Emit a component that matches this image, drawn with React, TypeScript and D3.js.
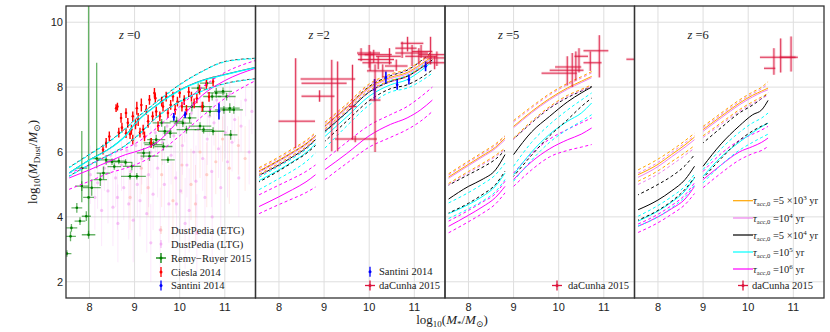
import * as d3 from "d3";

const W = 830, H = 332;
const PANEL_LEFT = [66, 255.5, 445, 634.5];
const PANEL_W = 189.5;
const TOP = 6, BOTTOM = 298;
const X_DOMAIN = [7.48, 11.68];
const Y_DOMAIN = [1.5, 10.5];
const X_TICKS = [8, 9, 10, 11];
const Y_TICKS = [2, 4, 6, 8, 10];
const REDSHIFTS = ["0", "2", "5", "6"];

// model grids (x positions of the median / percentile curves)
const Z0_X = [7.55, 8.0, 8.5, 8.8, 9.0, 9.5, 10.0, 10.5, 11.0, 11.68];
const SEG1_X = [7.56, 8.0, 8.3, 8.6, 8.81];
const Z2_SEG2_X = [9.02, 9.5, 10.0, 10.47, 10.84, 11.14, 11.4];
const Z5_SEG2_X = [9.0, 9.4, 9.8, 10.2, 10.5, 10.73];
const Z6_SEG2_X = [9.0, 9.4, 9.8, 10.1, 10.3, 10.44];

// each: [median, lower, upper]
const z0Cyan = [
  [5.35, 5.75, 6.15, 6.5, 6.85, 7.45, 7.9, 8.2, 8.38, 8.6],
  [5.25, 5.6, 5.95, 6.2, 6.42, 7.08, 7.55, 7.88, 8.1, 8.25],
  [5.52, 5.92, 6.38, 6.72, 6.98, 7.55, 8.07, 8.48, 8.78, 8.88],
];
const z0Black = [
  [5.36, 5.76, 6.16, 6.51, 6.86, 7.46, 7.91, 8.21, 8.39, 8.61],
  [5.26, 5.61, 5.96, 6.21, 6.43, 7.09, 7.56, 7.89, 8.11, 8.26],
  [5.53, 5.93, 6.39, 6.73, 6.99, 7.56, 8.08, 8.49, 8.79, 8.89],
];
const z0Magenta = [
  [5.2, 5.45, 5.75, 5.92, 6.0, 6.3, 7.0, 7.75, 8.2, 8.58],
  [4.85, 5.1, 5.38, 5.5, 5.6, 5.95, 6.5, 7.1, 7.65, 8.2],
  [5.35, 5.6, 5.95, 6.12, 6.25, 6.75, 7.4, 8.0, 8.45, 8.82],
];

const z2s1Orange = [[5.42, 5.75, 6.0, 6.26, 6.5], [5.32, 5.65, 5.9, 6.16, 6.4], [5.52, 5.85, 6.1, 6.36, 6.6]];
const z2s1Plum = [[5.38, 5.71, 5.96, 6.22, 6.46], [5.28, 5.61, 5.86, 6.12, 6.36], [5.48, 5.81, 6.06, 6.32, 6.56]];
const z2s1Black = [[5.28, 5.6, 5.85, 6.12, 6.38], [5.08, 5.42, 5.68, 5.95, 6.2], [5.4, 5.74, 5.98, 6.25, 6.5]];
const z2s1Cyan = [[5.12, 5.45, 5.7, 5.98, 6.25], [4.84, 5.18, 5.42, 5.7, 5.97], [5.22, 5.56, 5.8, 6.08, 6.35]];
const z2s1Magenta = [[4.32, 4.62, 4.84, 5.08, 5.3], [4.1, 4.38, 4.56, 4.75, 4.92], [4.68, 4.98, 5.18, 5.4, 5.6]];

const z2s2Orange = [[6.82, 7.38, 8.0, 8.3, 8.45, 8.7, 8.95], [6.72, 7.28, 7.9, 8.2, 8.35, 8.6, 8.85], [6.92, 7.48, 8.1, 8.4, 8.55, 8.8, 9.05]];
const z2s2Plum = [[6.78, 7.34, 7.96, 8.26, 8.41, 8.66, 8.91], [6.68, 7.24, 7.86, 8.16, 8.31, 8.56, 8.81], [6.88, 7.44, 8.06, 8.36, 8.51, 8.76, 9.01]];
const z2s2Black = [[6.64, 7.22, 7.85, 8.17, 8.33, 8.58, 8.84], [6.33, 6.95, 7.58, 7.95, 8.07, 8.28, 8.53], [6.8, 7.38, 8.02, 8.35, 8.52, 8.8, 9.1]];
const z2s2Cyan = [[6.48, 7.08, 7.72, 8.07, 8.23, 8.5, 8.79], [6.12, 6.8, 7.45, 7.85, 7.97, 8.18, 8.43], [6.6, 7.2, 7.85, 8.2, 8.36, 8.62, 8.9]];
const z2s2Magenta = [[5.46, 5.95, 6.5, 6.85, 7.05, 7.3, 7.6], [5.15, 5.65, 6.15, 6.45, 6.69, 6.95, 7.25], [5.76, 6.3, 6.82, 7.15, 7.4, 7.7, 8.0]];

const z5s1Orange = [[5.23, 5.62, 5.88, 6.15, 6.43], [5.03, 5.4, 5.64, 5.9, 6.12], [5.33, 5.72, 5.98, 6.25, 6.5]];
const z5s1Plum = [[5.19, 5.58, 5.84, 6.11, 6.38], [4.99, 5.36, 5.6, 5.86, 6.08], [5.29, 5.68, 5.94, 6.21, 6.48]];
const z5s1Black = [[4.55, 4.94, 5.15, 5.45, 5.92], [4.12, 4.42, 4.68, 5.0, 5.41], [4.98, 5.3, 5.52, 5.78, 6.05]];
const z5s1Cyan = [[4.1, 4.38, 4.62, 4.95, 5.35], [3.95, 4.25, 4.48, 4.78, 5.15], [4.43, 4.75, 5.0, 5.3, 5.66]];
const z5s1Magenta = [[3.71, 4.05, 4.3, 4.6, 4.94], [3.51, 3.85, 4.1, 4.4, 4.74], [3.87, 4.2, 4.45, 4.72, 5.1]];

const z5s2Orange = [[6.79, 7.25, 7.65, 7.98, 8.18, 8.33], [6.43, 6.95, 7.4, 7.75, 7.93, 8.07], [6.97, 7.4, 7.8, 8.12, 8.32, 8.48]];
const z5s2Plum = [[6.75, 7.21, 7.61, 7.94, 8.14, 8.29], [6.39, 6.91, 7.36, 7.71, 7.89, 8.03], [6.93, 7.36, 7.76, 8.08, 8.28, 8.44]];
const z5s2Black = [[5.92, 6.62, 7.1, 7.55, 7.82, 8.0], [5.25, 5.9, 6.5, 7.0, 7.4, 7.66], [6.4, 6.9, 7.35, 7.68, 7.88, 8.02]];
const z5s2Cyan = [[5.3, 6.0, 6.55, 6.95, 7.2, 7.51], [5.1, 5.75, 6.3, 6.7, 6.95, 7.15], [5.56, 6.3, 6.85, 7.3, 7.6, 7.82]];
const z5s2Magenta = [[5.15, 5.7, 6.1, 6.38, 6.55, 6.74], [4.94, 5.45, 5.85, 6.05, 6.15, 6.23], [5.35, 5.95, 6.4, 6.7, 6.9, 7.05]];

const z6s1Orange = [[5.3, 5.62, 5.92, 6.22, 6.46], [5.1, 5.42, 5.7, 5.98, 6.2], [5.45, 5.78, 6.05, 6.35, 6.58]];
const z6s1Plum = [[5.22, 5.55, 5.85, 6.15, 6.38], [5.0, 5.32, 5.6, 5.9, 6.12], [5.35, 5.68, 5.98, 6.28, 6.5]];
const z6s1Black = [[4.22, 4.52, 4.8, 5.15, 5.56], [3.9, 4.2, 4.48, 4.85, 5.22], [4.68, 5.0, 5.25, 5.58, 5.92]];
const z6s1Cyan = [[3.87, 4.18, 4.45, 4.8, 5.2], [3.72, 4.0, 4.28, 4.62, 4.98], [4.02, 4.35, 4.62, 4.95, 5.32]];
const z6s1Magenta = [[3.71, 4.0, 4.25, 4.55, 4.94], [3.52, 3.82, 4.08, 4.38, 4.72], [3.78, 4.08, 4.35, 4.68, 5.05]];

const z6s2Orange = [[6.69, 7.1, 7.5, 7.75, 7.88, 7.97], [6.5, 6.9, 7.3, 7.55, 7.7, 7.8], [6.79, 7.2, 7.6, 7.85, 8.0, 8.17]];
const z6s2Plum = [[6.64, 7.05, 7.45, 7.7, 7.84, 7.92], [6.45, 6.85, 7.25, 7.5, 7.65, 7.75], [6.74, 7.15, 7.55, 7.8, 7.95, 8.1]];
const z6s2Black = [[5.56, 6.25, 6.8, 7.15, 7.3, 7.59], [5.2, 5.8, 6.35, 6.65, 6.8, 6.89], [6.28, 6.75, 7.2, 7.45, 7.65, 7.82]];
const z6s2Cyan = [[5.25, 5.85, 6.3, 6.6, 6.78, 6.89], [5.05, 5.6, 6.05, 6.3, 6.45, 6.55], [5.46, 6.1, 6.6, 6.9, 7.05, 7.2]];
const z6s2Magenta = [[5.15, 5.6, 6.0, 6.17, 6.3, 6.43], [4.9, 5.35, 5.75, 5.95, 6.05, 6.17], [5.4, 5.95, 6.35, 6.55, 6.68, 6.79]];

// observations: DustPedia [x, y, yerr]
const dustPediaLTG = [
  [8.02, 5.3, 0.9], [8.12, 4.6, 1.0], [8.18, 5.05, 0.8], [8.27, 4.2, 1.1], [8.33, 5.5, 0.7], [8.41, 4.8, 1.0],
  [8.47, 5.9, 0.6], [8.52, 4.3, 1.2], [8.58, 5.2, 0.9], [8.63, 3.8, 1.2], [8.71, 5.6, 0.8], [8.76, 4.9, 1.0],
  [8.83, 6.05, 0.6], [8.87, 4.4, 1.1], [8.92, 5.4, 0.9], [8.97, 3.9, 1.3], [9.03, 6.2, 0.7], [9.06, 5.0, 1.0],
  [9.12, 4.5, 1.1], [9.16, 5.8, 0.8], [9.22, 6.45, 0.6], [9.27, 4.1, 1.2], [9.31, 5.3, 1.0], [9.36, 6.0, 0.8],
  [9.41, 4.7, 1.1], [9.46, 6.6, 0.6], [9.51, 5.5, 0.9], [9.57, 3.6, 1.3], [9.62, 6.3, 0.7], [9.66, 5.0, 1.0],
  [9.72, 6.8, 0.6], [9.76, 4.4, 1.2], [9.81, 5.9, 0.9], [9.87, 6.5, 0.7], [9.91, 5.2, 1.1], [9.96, 7.0, 0.5],
  [10.02, 4.8, 1.2], [10.06, 6.2, 0.9], [10.11, 6.9, 0.6], [10.16, 5.6, 1.0], [10.21, 4.2, 1.3], [10.26, 7.2, 0.5],
  [10.31, 6.0, 0.9], [10.36, 5.1, 1.1], [10.41, 6.7, 0.7], [10.46, 7.4, 0.5], [10.51, 5.8, 1.0], [10.56, 4.6, 1.2],
  [10.61, 6.4, 0.8], [10.66, 7.1, 0.6], [10.71, 5.4, 1.1], [10.76, 6.9, 0.7], [10.82, 7.6, 0.5], [10.86, 6.1, 0.9],
  [10.91, 4.9, 1.3], [10.96, 7.3, 0.6], [11.01, 6.6, 0.8], [11.06, 5.7, 1.1], [11.11, 7.8, 0.4], [11.16, 6.3, 0.9],
  [11.22, 7.0, 0.7], [11.31, 5.2, 1.2], [11.36, 6.8, 0.8], [11.46, 7.6, 0.5], [11.54, 6.0, 1.0], [11.6, 7.25, 0.7],
  [9.36, 3.2, 1.2], [10.12, 3.8, 1.4], [8.62, 4.6, 1.0], [10.72, 4.0, 1.4], [9.93, 4.4, 1.0], [10.38, 3.5, 1.2],
];
const dustPediaETG = [
  [8.9, 4.6, 1.0], [9.3, 4.9, 0.9], [9.6, 5.3, 1.0], [9.85, 4.5, 1.2], [10.05, 5.6, 0.9], [10.25, 5.0, 1.1],
  [10.45, 6.0, 0.8], [10.6, 5.3, 1.0], [10.8, 5.7, 1.0], [10.95, 6.4, 0.7], [11.1, 5.5, 1.1], [11.3, 6.2, 0.9],
  [11.45, 5.8, 1.0], [9.15, 5.5, 0.8], [10.35, 4.4, 1.2],
];
// Remy-Ruyer 2015: [x, y, xerr, yerrLow, yerrHigh]
const remyRuyer = [
  [7.98, 4.6, 0.12, 1.2, 5.9], [8.16, 5.8, 0.1, 0.3, 2.95], [7.83, 5.5, 0.12, 1.05, 1.15], [7.72, 4.28, 0.12, 0.15, 0.15],
  [7.6, 3.66, 0.13, 0.12, 0.12], [7.93, 4.02, 0.1, 0.15, 0.15], [7.79, 3.87, 0.12, 0.12, 0.12], [7.98, 3.45, 0.15, 0.12, 0.12],
  [7.58, 3.4, 0.12, 0.15, 0.15], [7.5, 2.87, 0.1, 0.1, 0.1], [7.83, 4.95, 0.15, 0.15, 0.15], [8.05, 4.9, 0.2, 0.25, 0.25],
  [8.24, 5.15, 0.15, 0.2, 0.2], [8.31, 5.35, 0.15, 0.2, 0.2], [8.37, 5.76, 0.2, 0.15, 0.15], [8.5, 5.7, 0.15, 0.1, 0.1],
  [8.65, 5.72, 0.15, 0.1, 0.1], [8.8, 5.68, 0.15, 0.1, 0.1], [8.94, 5.56, 0.2, 0.12, 0.12], [9.05, 5.25, 0.2, 0.1, 0.1],
  [9.2, 5.97, 0.15, 0.15, 0.15], [9.33, 5.87, 0.2, 0.15, 0.15], [9.35, 6.28, 0.15, 0.15, 0.15], [9.42, 6.23, 0.2, 0.12, 0.12],
  [9.48, 6.38, 0.2, 0.15, 0.15], [9.64, 6.17, 0.2, 0.12, 0.12], [9.67, 6.64, 0.15, 0.15, 0.15], [9.79, 6.58, 0.15, 0.15, 0.15],
  [9.93, 6.94, 0.15, 0.15, 0.15], [10.07, 6.89, 0.2, 0.12, 0.12], [10.15, 6.69, 0.22, 0.12, 0.12], [10.22, 7.05, 0.15, 0.15, 0.15],
  [10.27, 7.4, 0.2, 0.15, 0.15], [10.41, 7.97, 0.15, 0.15, 0.15], [10.52, 7.4, 0.2, 0.15, 0.15], [10.53, 6.69, 0.2, 0.12, 0.12],
  [10.6, 8.12, 0.15, 0.12, 0.12], [10.67, 7.25, 0.2, 0.15, 0.15], [10.74, 6.64, 0.25, 0.12, 0.12], [10.72, 7.71, 0.2, 0.12, 0.12],
  [10.81, 7.82, 0.2, 0.15, 0.15], [10.96, 7.87, 0.2, 0.12, 0.12], [11.04, 7.71, 0.2, 0.12, 0.12], [11.11, 7.35, 0.22, 0.15, 0.15],
  [11.2, 7.3, 0.2, 0.12, 0.12], [11.13, 6.53, 0.15, 0.15, 0.15], [10.98, 7.3, 0.2, 0.12, 0.12], [9.74, 5.76, 0.15, 0.1, 0.1],
  [9.6, 6.9, 0.2, 0.12, 0.12], [10.45, 6.8, 0.25, 0.12, 0.12], [8.9, 5.25, 0.2, 0.1, 0.1], [8.55, 5.55, 0.15, 0.1, 0.1],
];
// Ciesla 2014: [x, y, yerr]
const ciesla = [
  [8.3, 6.07, 0.15], [8.37, 6.28, 0.15], [8.44, 6.48, 0.15], [8.59, 7.35, 0.12], [8.65, 6.6, 0.15], [8.72, 6.75, 0.15],
  [8.81, 7.2, 0.15], [8.81, 6.58, 0.15], [8.85, 6.9, 0.15], [8.93, 6.69, 0.15], [8.96, 7.1, 0.15], [8.96, 6.38, 0.15],
  [9.02, 6.85, 0.15], [9.08, 7.0, 0.2], [9.12, 6.6, 0.15], [9.19, 6.69, 0.15], [9.22, 6.48, 0.15], [9.26, 7.3, 0.15],
  [9.3, 6.95, 0.2], [9.33, 7.61, 0.15], [9.37, 6.28, 0.15], [9.4, 7.1, 0.15], [9.44, 7.82, 0.15], [9.48, 7.25, 0.15],
  [9.52, 6.8, 0.15], [9.56, 7.1, 0.15], [9.6, 7.55, 0.15], [9.63, 7.4, 0.15], [9.7, 7.71, 0.15], [9.74, 7.2, 0.15],
  [9.8, 7.45, 0.15], [9.85, 7.71, 0.15], [9.9, 7.3, 0.15], [9.95, 7.55, 0.15], [10.0, 7.82, 0.15], [10.05, 7.4, 0.15],
  [10.1, 7.6, 0.15], [10.15, 7.3, 0.15], [10.2, 7.85, 0.15], [10.26, 7.71, 0.15], [10.32, 7.5, 0.15], [10.38, 7.65, 0.15],
  [10.44, 7.92, 0.15], [10.5, 7.4, 0.15], [10.59, 8.07, 0.15], [10.65, 7.7, 0.15], [10.74, 8.17, 0.15], [9.05, 7.35, 0.2],
  [9.15, 7.45, 0.2], [8.7, 7.05, 0.15], [8.9, 6.55, 0.15], [9.46, 7.66, 0.15], [8.62, 7.4, 0.12],
];
// Santini 2014: [x, y, yerr]
const santiniZ0 = [[9.87, 7.08, 0.12], [10.12, 7.15, 0.1], [10.87, 7.25, 0.25]];
const santiniZ2 = [[10.12, 7.92, 0.33], [10.37, 8.3, 0.18], [10.62, 8.07, 0.15], [10.88, 8.23, 0.15], [11.25, 8.64, 0.15]];
// daCunha 2015: [x, y, xlow, xhigh, ylow, yhigh]
const daCunhaZ2 = [
  [8.37, 6.95, 7.99, 8.8, 6.12, 8.89], [9.17, 8.25, 8.48, 9.69, 6.02, 8.84], [9.3, 8.12, 8.5, 9.5, 6.02, 8.79],
  [8.9, 7.72, 8.5, 9.23, 7.55, 7.9], [9.63, 7.4, 9.55, 9.72, 6.38, 8.69], [9.69, 6.4, 9.24, 10.17, 6.3, 6.5],
  [10.13, 7.6, 10.0, 10.25, 6.0, 8.7], [10.0, 9.05, 9.73, 10.24, 8.6, 9.3], [10.1, 9.0, 9.9, 10.5, 8.75, 9.15],
  [10.02, 8.85, 9.75, 10.55, 8.5, 9.1], [10.2, 8.75, 9.85, 10.5, 8.55, 8.95], [10.3, 8.5, 9.95, 10.55, 8.3, 8.7],
  [10.45, 8.95, 10.15, 10.7, 8.7, 9.2], [10.73, 9.2, 10.58, 11.05, 8.9, 9.4], [10.85, 9.35, 10.7, 11.2, 9.1, 9.55],
  [10.95, 9.05, 10.58, 11.3, 8.65, 9.3], [11.1, 8.95, 10.8, 11.5, 8.7, 9.2], [11.15, 9.1, 10.95, 11.4, 8.9, 9.3],
  [11.36, 9.0, 11.1, 11.7, 8.7, 9.55], [11.5, 8.9, 11.2, 11.7, 8.65, 9.1], [10.6, 8.65, 10.35, 10.85, 8.5, 8.85],
  [11.45, 8.75, 11.25, 11.7, 8.55, 8.95], [9.82, 9.0, 9.75, 10.1, 8.8, 9.2],
];
const daCunhaZ5 = [
  [10.19, 8.43, 9.62, 10.4, 8.05, 8.95], [10.3, 8.52, 9.8, 10.55, 8.0, 9.05], [10.38, 8.62, 9.92, 10.5, 8.2, 9.1],
  [10.45, 8.95, 10.35, 10.65, 8.45, 9.2], [10.9, 9.12, 10.55, 11.1, 8.3, 9.6], [10.7, 8.75, 10.55, 10.95, 8.5, 9.1],
  [11.8, 8.86, 11.5, 12.1, 8.7, 9.0],
];
const daCunhaZ6 = [
  [10.72, 8.92, 10.26, 11.1, 8.45, 9.5], [10.95, 8.92, 10.7, 11.05, 8.48, 9.56], [10.57, 8.58, 10.35, 10.6, 8.38, 9.2],
];

const COLORS = { orange: "#ffa500", plum: "#ee82ee", black: "#000000", cyan: "#00ffff", magenta: "#ff00ff" };
const CRIMSON = "#dc143c";

const MODELS = [
  [{ x: Z0_X, sets: [["black", z0Black], ["magenta", z0Magenta], ["cyan", z0Cyan]] }],
  [
    { x: SEG1_X, sets: [["magenta", z2s1Magenta], ["cyan", z2s1Cyan], ["black", z2s1Black], ["plum", z2s1Plum], ["orange", z2s1Orange]] },
    { x: Z2_SEG2_X, sets: [["magenta", z2s2Magenta], ["cyan", z2s2Cyan], ["black", z2s2Black], ["plum", z2s2Plum], ["orange", z2s2Orange]] },
  ],
  [
    { x: SEG1_X, sets: [["magenta", z5s1Magenta], ["cyan", z5s1Cyan], ["black", z5s1Black], ["plum", z5s1Plum], ["orange", z5s1Orange]] },
    { x: Z5_SEG2_X, sets: [["magenta", z5s2Magenta], ["cyan", z5s2Cyan], ["black", z5s2Black], ["plum", z5s2Plum], ["orange", z5s2Orange]] },
  ],
  [
    { x: SEG1_X, sets: [["magenta", z6s1Magenta], ["cyan", z6s1Cyan], ["black", z6s1Black], ["plum", z6s1Plum], ["orange", z6s1Orange]] },
    { x: Z6_SEG2_X, sets: [["magenta", z6s2Magenta], ["cyan", z6s2Cyan], ["black", z6s2Black], ["plum", z6s2Plum], ["orange", z6s2Orange]] },
  ],
];

const y = d3.scaleLinear().domain(Y_DOMAIN).range([BOTTOM, TOP]);
const SERIF = "'Liberation Serif', 'DejaVu Serif', serif";
const SANS = "'Liberation Sans', Arial, sans-serif";

function TauLabel({ x, y0, mant, exp }: any) {
  return (
    <text x={x} y={y0 + 3.5} fontFamily={SERIF} fontSize={10.5} fill="#222">
      <tspan fontStyle="italic">τ</tspan>
      <tspan dy={2} fontSize={6.5}>acc,0</tspan>
      <tspan dy={-2}>{mant ? ` =${mant} ×10` : " =10"}</tspan>
      <tspan dy={-4} fontSize={7}>{exp}</tspan>
      <tspan dy={4}> yr</tspan>
    </text>
  );
}

function Panel({ idx }: { idx: number }) {
  const left = PANEL_LEFT[idx];
  const x = d3.scaleLinear().domain(X_DOMAIN).range([left, left + PANEL_W]);
  const clipId = `clip${idx}`;
  const line = d3.line<[number, number]>().x((d) => x(d[0])).y((d) => y(d[1])).curve(d3.curveMonotoneX);
  const mk = (xs: number[], ys: number[]) => line(xs.map((v, i) => [v, ys[i]]) as [number, number][]) || "";

  const models = MODELS[idx];
  const daCunha = idx === 1 ? daCunhaZ2 : idx === 2 ? daCunhaZ5 : idx === 3 ? daCunhaZ6 : [];
  const santini = idx === 0 ? santiniZ0 : idx === 1 ? santiniZ2 : [];

  return (
    <g>
      <defs>
        <clipPath id={clipId}>
          <rect x={left} y={TOP} width={PANEL_W} height={BOTTOM - TOP} />
        </clipPath>
      </defs>
      <rect x={left} y={TOP} width={PANEL_W} height={BOTTOM - TOP} fill="#fff" />
      {X_TICKS.map((t) => (
        <line key={`gx${t}`} x1={x(t)} x2={x(t)} y1={TOP} y2={BOTTOM} stroke="#dedede" strokeWidth={1} />
      ))}
      {Y_TICKS.map((t) => (
        <line key={`gy${t}`} x1={left} x2={left + PANEL_W} y1={y(t)} y2={y(t)} stroke="#dedede" strokeWidth={1} />
      ))}
      <g clipPath={`url(#${clipId})`}>
        {idx === 0 && (
          <g>
            {dustPediaETG.map((d, i) => (
              <g key={`e${i}`}>
                <line x1={x(d[0])} x2={x(d[0])} y1={y(d[1] - d[2])} y2={y(d[1] + d[2])} stroke="#ffb4a8" strokeOpacity={0.3} />
                <circle cx={x(d[0])} cy={y(d[1])} r={1.6} fill="#ffb4a8" fillOpacity={0.6} />
              </g>
            ))}
            {dustPediaLTG.map((d, i) => (
              <g key={`l${i}`}>
                <line x1={x(d[0])} x2={x(d[0])} y1={y(d[1] - d[2])} y2={y(d[1] + d[2])} stroke="#ee82ee" strokeOpacity={0.18} />
                <circle cx={x(d[0])} cy={y(d[1])} r={1.6} fill="#ee82ee" fillOpacity={0.45} />
              </g>
            ))}
            {remyRuyer.map((d, i) => (
              <g key={`r${i}`} stroke="green" strokeOpacity={0.6} strokeWidth={1.3}>
                <line x1={x(d[0] - d[2])} x2={x(d[0] + d[2])} y1={y(d[1])} y2={y(d[1])} />
                <line x1={x(d[0])} x2={x(d[0])} y1={y(d[1] - d[3])} y2={y(d[1] + d[4])} />
                <circle cx={x(d[0])} cy={y(d[1])} r={1.3} fill="green" stroke="none" />
              </g>
            ))}
            {ciesla.map((d, i) => (
              <g key={`c${i}`}>
                <line x1={x(d[0])} x2={x(d[0])} y1={y(d[1] - d[2])} y2={y(d[1] + d[2])} stroke="red" strokeWidth={1.4} />
                <circle cx={x(d[0])} cy={y(d[1])} r={1.3} fill="red" />
              </g>
            ))}
          </g>
        )}
        {models.map((seg, si) =>
          seg.sets.map(([name, rows]: any) => {
            const c = (COLORS as any)[name];
            const thinBlack = idx === 0 && name === "black";
            return (
              <g key={`${si}${name}`} fill="none" stroke={c} strokeWidth={thinBlack ? 0.7 : idx === 0 && name === "cyan" ? 1.2 : 1}>
                <path d={mk(seg.x, rows[1])} strokeDasharray="3,2.6" strokeDashoffset={name === "black" ? 2 : 0} />
                <path d={mk(seg.x, rows[2])} strokeDasharray="3,2.6" strokeDashoffset={name === "black" ? 2 : 0} />
                <path d={mk(seg.x, rows[0])} />
              </g>
            );
          })
        )}
        {santini.map((d, i) => (
          <g key={`s${i}`}>
            <line x1={x(d[0])} x2={x(d[0])} y1={y(d[1] - d[2])} y2={y(d[1] + d[2])} stroke="blue" strokeWidth={1.6} />
            <circle cx={x(d[0])} cy={y(d[1])} r={1.4} fill="blue" />
          </g>
        ))}
        {daCunha.map((d, i) => (
          <g key={`d${i}`} stroke={CRIMSON}>
            <g strokeWidth={3} strokeOpacity={0.2}>
              <line x1={x(d[2])} x2={x(d[3])} y1={y(d[1])} y2={y(d[1])} />
              <line x1={x(d[0])} x2={x(d[0])} y1={y(d[4])} y2={y(d[5])} />
            </g>
            <g strokeWidth={1} strokeOpacity={0.85}>
              <line x1={x(d[2])} x2={x(d[3])} y1={y(d[1])} y2={y(d[1])} />
              <line x1={x(d[0])} x2={x(d[0])} y1={y(d[4])} y2={y(d[5])} />
            </g>
          </g>
        ))}
      </g>
      <text x={left + 53} y={39} fontFamily={SERIF} fontSize={12.5} fill="#222">
        <tspan fontStyle="italic">z</tspan> ={REDSHIFTS[idx]}
      </text>
      {X_TICKS.map((t) => (
        <text key={`tx${t}`} x={x(t)} y={311} textAnchor="middle" fontFamily={SANS} fontSize={11} fill="#222">{t}</text>
      ))}
      {idx === 0 &&
        Y_TICKS.map((t) => (
          <text key={`ty${t}`} x={63} y={y(t) + 4} textAnchor="end" fontFamily={SANS} fontSize={11} fill="#222">{t}</text>
        ))}
    </g>
  );
}

function CrossMarker({ cx, cy, color, h = 5, v = 5, opacity = 1 }: any) {
  return (
    <g stroke={color} strokeOpacity={opacity} strokeWidth={1.3}>
      {h > 0 && <line x1={cx - h} x2={cx + h} y1={cy} y2={cy} />}
      {v > 0 && <line x1={cx} x2={cx} y1={cy - v} y2={cy + v} />}
      <circle cx={cx} cy={cy} r={1.5} fill={color} fillOpacity={opacity} stroke="none" />
    </g>
  );
}

export default function App() {
  const legendText = (x0: number, y0: number, s: string) => (
    <text x={x0} y={y0 + 3.5} fontFamily={SERIF} fontSize={10.5} fill="#222">{s}</text>
  );
  const tauRows: [string, string, string][] = [
    ["orange", "5", "3"], ["plum", "", "4"], ["black", "5", "4"], ["cyan", "", "5"], ["magenta", "", "6"],
  ];
  const tauY = [200.7, 218, 235, 252, 269];
  return (
    <svg width={W} height={H} style={{ display: "block", position: "absolute", left: 0, top: 0 }}>
      <rect width={W} height={H} fill="#fff" />
      {[0, 1, 2, 3].map((i) => <Panel key={i} idx={i} />)}
      {PANEL_LEFT.map((l, i) => (
        <rect key={`f${i}`} x={l} y={TOP} width={PANEL_W} height={BOTTOM - TOP} fill="none" stroke="#333" strokeWidth={1.3} />
      ))}

      {/* legend z=0 */}
      <CrossMarker cx={161} cy={230} color="#ffb4a8" h={0} v={4} opacity={0.5} />
      {legendText(171, 230, "DustPedia (ETG)")}
      <CrossMarker cx={161} cy={244} color="#ee82ee" h={0} v={4} opacity={0.5} />
      {legendText(171, 244, "DustPedia (LTG)")}
      <CrossMarker cx={161} cy={258} color="green" h={5} v={5} />
      {legendText(171, 258, "Remy\u2212Ruyer 2015")}
      <CrossMarker cx={161} cy={272} color="red" h={0} v={5} />
      {legendText(171, 272, "Ciesla 2014")}
      <CrossMarker cx={161} cy={285.5} color="blue" h={0} v={5} />
      {legendText(171, 285.5, "Santini 2014")}

      {/* legend z=2 */}
      <CrossMarker cx={370} cy={271.7} color="blue" h={0} v={5} />
      {legendText(379, 271.7, "Santini 2014")}
      <CrossMarker cx={370} cy={285.5} color={CRIMSON} h={5} v={5} />
      {legendText(379, 285.5, "daCunha 2015")}

      {/* legend z=5 */}
      <CrossMarker cx={557} cy={285.5} color={CRIMSON} h={5} v={5} />
      {legendText(568, 285.5, "daCunha 2015")}

      {/* legend z=6 */}
      {tauRows.map(([c, m, e], i) => (
        <g key={c}>
          <line x1={733} x2={753} y1={tauY[i]} y2={tauY[i]} stroke={(COLORS as any)[c]} strokeWidth={1.2} />
          <TauLabel x={753} y0={tauY[i]} mant={m} exp={e} />
        </g>
      ))}
      <CrossMarker cx={743} cy={285.5} color={CRIMSON} h={5} v={5} />
      {legendText(752, 285.5, "daCunha 2015")}

      {/* axis labels */}
      <text x={452} y={324} textAnchor="middle" fontFamily={SERIF} fontSize={13} fill="#222">
        log<tspan dy={3} fontSize={9}>10</tspan>
        <tspan dy={-3}>(</tspan>
        <tspan fontStyle="italic">M</tspan>
        <tspan dy={3} fontSize={9}>*</tspan>
        <tspan dy={-3}>/</tspan>
        <tspan fontStyle="italic">M</tspan>
        <tspan dy={3} fontSize={9}>⊙</tspan>
        <tspan dy={-3}>)</tspan>
      </text>
      <text transform="translate(37,162) rotate(-90)" textAnchor="middle" fontFamily={SERIF} fontSize={13} fill="#222">
        log<tspan dy={3} fontSize={9}>10</tspan>
        <tspan dy={-3}>(</tspan>
        <tspan fontStyle="italic">M</tspan>
        <tspan dy={3} fontSize={9}>Dust</tspan>
        <tspan dy={-3}>/</tspan>
        <tspan fontStyle="italic">M</tspan>
        <tspan dy={3} fontSize={9}>⊙</tspan>
        <tspan dy={-3}>)</tspan>
      </text>
    </svg>
  );
}
